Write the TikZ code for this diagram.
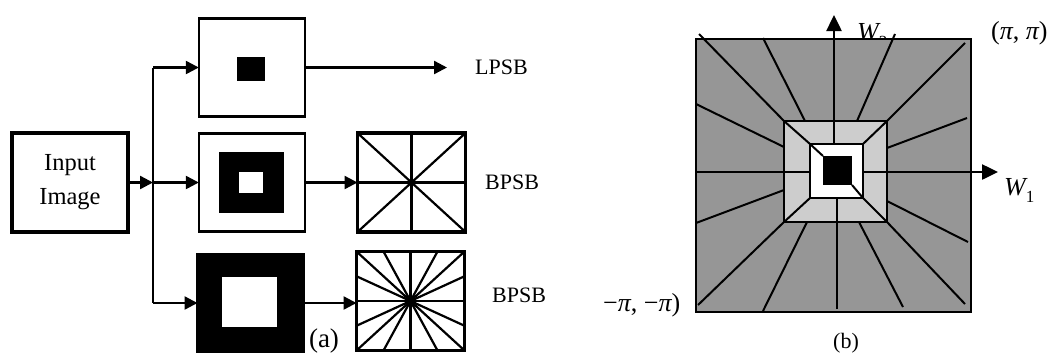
\documentclass[tikz,border=0pt]{standalone}
\usepackage{fontspec}
\setmainfont{Liberation Serif}
\usetikzlibrary{arrows.meta,calc}
\definecolor{gA}{HTML}{969696}
\definecolor{gB}{HTML}{CDCDCD}
\newcommand{\itpi}{{\itshape π}}
\begin{document}
\begin{tikzpicture}[x=1pt,y=-1pt,
  conn/.style={line width=2.4pt,-{Triangle[length=13pt,width=13pt]}},
  plain/.style={line width=2.4pt},
  inbox/.style={draw,line width=3.3pt,inner sep=0pt,outer sep=0pt,minimum width=116pt,minimum height=99pt,align=center,font=\fontsize{24.5}{34}\selectfont},
  filtbox/.style={draw,line width=2.3pt,inner sep=0pt,outer sep=0pt,minimum width=106pt,minimum height=98pt},
  hbox/.style={draw,line width=3.5pt,inner sep=0pt,outer sep=0pt,minimum width=108pt,minimum height=99pt},
  hline/.style={line width=2.2pt},
  lab/.style={font=\fontsize{22}{26}\selectfont,inner sep=0pt},
  mlab/.style={font=\fontsize{26}{30}\selectfont,inner sep=0pt},
  ray/.style={line width=2pt},
  axis/.style={line width=2.5pt,-{Triangle[length=16pt,width=15pt]}},
  sq/.style={draw=black,line width=1.8pt}]
\useasboundingbox (0,0) rectangle (1057,357);

% ---------------- panel (a) ----------------
\node[inbox] (inp) at (70,182.5) {Input\\Image};
\coordinate (J) at (153,182.5);
\node[filtbox] (top) at (251.8,67.5) {};
\node[filtbox] (mid) at (251.8,182.5) {};
\node[filtbox,fill=black] (bot) at (250.5,303) {};
\fill[black] (236.5,57) rectangle (265,81);
\fill[black] (218.6,152) rectangle (283.8,213);
\fill[white] (239,172) rectangle (262.8,193);
\fill[white] (222,277) rectangle (277,327);

\node[hbox] (h1) at (411.5,182.5) {};
\node[hbox] (h2) at (410.5,301) {};

% connectors
\draw[conn] (inp.east) -- (J);
\coordinate (Jt) at (J |- top.west);
\coordinate (Jb) at (J |- bot.west);
\draw[plain] (Jt) -- (Jb);
\draw[conn] (Jt) -- (top.west);
\draw[conn] (J) -- (mid.west);
\draw[conn] (Jb) -- (bot.west);
\coordinate (lpe) at (447,67.5);
\draw[conn] (top.east) -- (lpe);
\draw[conn] (mid.east) -- (h1.west);
\draw[conn] (bot.east) -- (bot.east -| h2.west);

% hatching of h1
\draw[hline] (h1.north) -- (h1.south);
\draw[hline] (h1.west) -- (h1.east);
\draw[hline] (h1.north west) -- (h1.south east);
\draw[hline] (h1.north east) -- (h1.south west);
% hatching of h2
\draw[hline] (h2.north) -- (h2.south);
\draw[hline] (h2.west) -- (h2.east);
\draw[hline] (h2.north west) -- (h2.south east);
\draw[hline] (h2.north east) -- (h2.south west);
\draw[hline] ($(h2.north west)!0.25!(h2.north east)$) -- ($(h2.south west)!0.75!(h2.south east)$);
\draw[hline] ($(h2.north west)!0.75!(h2.north east)$) -- ($(h2.south west)!0.25!(h2.south east)$);
\draw[hline] ($(h2.north west)!0.25!(h2.south west)$) -- ($(h2.north east)!0.75!(h2.south east)$);
\draw[hline] ($(h2.north west)!0.75!(h2.south west)$) -- ($(h2.north east)!0.25!(h2.south east)$);
\node[hbox] at (h1) {};
\node[hbox] at (h2) {};

\node[lab,anchor=west] (lpsb) at (475,67) {LPSB};
\node[lab,anchor=west] (bpsb1) at (485,182) {BPSB};
\node[lab,anchor=west] (bpsb2) at (492,295) {BPSB};
\node[font=\fontsize{27}{30}\selectfont,inner sep=0pt] (la) at (324,341) {(a)};

% ---------------- panel (b) ----------------
\node[mlab,anchor=base west] (w2) at (857,40) {{\itshape W}\raisebox{-0.3em}{\fontsize{17}{20}\selectfont 2}};
\filldraw[fill=gA,sq] (696,39) rectangle (971,312);
% rays in the outer band
\draw[ray] (699,34) -- (784,121);
\draw[ray] (763,38) -- (805,121);
\draw[ray] (895,34) -- (857,121);
\draw[ray] (965,43) -- (887,121);
\draw[ray] (696,104) -- (784,147);
\draw[ray] (696,172) -- (784,172);
\draw[ray] (696,223) -- (784,190);
\draw[ray] (967,118) -- (887,148);
\draw[ray] (968,242) -- (887,201);
\draw[ray] (698,305) -- (784,222);
\draw[ray] (763,311) -- (807,222);
\draw[ray] (837,309) -- (837,222);
\draw[ray] (903,307) -- (859,222);
\draw[ray] (965,304) -- (887,222);
% axes
\draw[axis] (834,121) -- (834,15);
\draw[axis] (887,172) -- (998,172);
% light grey band
\filldraw[fill=gB,sq] (784,121) rectangle (887,222);
\draw[ray] (834,121) -- (834,144);
\draw[ray] (837,198) -- (837,222);
\draw[ray] (784,172) -- (810,172);
\draw[ray] (863,172) -- (887,172);
\draw[ray] (784,121) -- (810,144);
\draw[ray] (887,121) -- (863,144);
\draw[ray] (784,222) -- (810,198);
\draw[ray] (887,222) -- (863,198);
% white and black centre
\filldraw[fill=white,sq] (810,144) rectangle (863,198);
\draw[ray] (810,144) -- (823,156);
\draw[ray] (863,198) -- (852,185);
\fill[black] (823,156) rectangle (852,185);

\node[mlab,anchor=base west] (pp) at (991,39) {(\itpi, \itpi)};
\node[mlab,anchor=base west] (w1) at (1004,195) {{\itshape W}\raisebox{-0.3em}{\fontsize{17}{20}\selectfont 1}};
\node[mlab,anchor=base west] (mm) at (603,311) {−\itpi, −\itpi)};
\node[font=\fontsize{22}{26}\selectfont,inner sep=0pt] (lb) at (846,343) {(b)};
\end{tikzpicture}
\end{document}
